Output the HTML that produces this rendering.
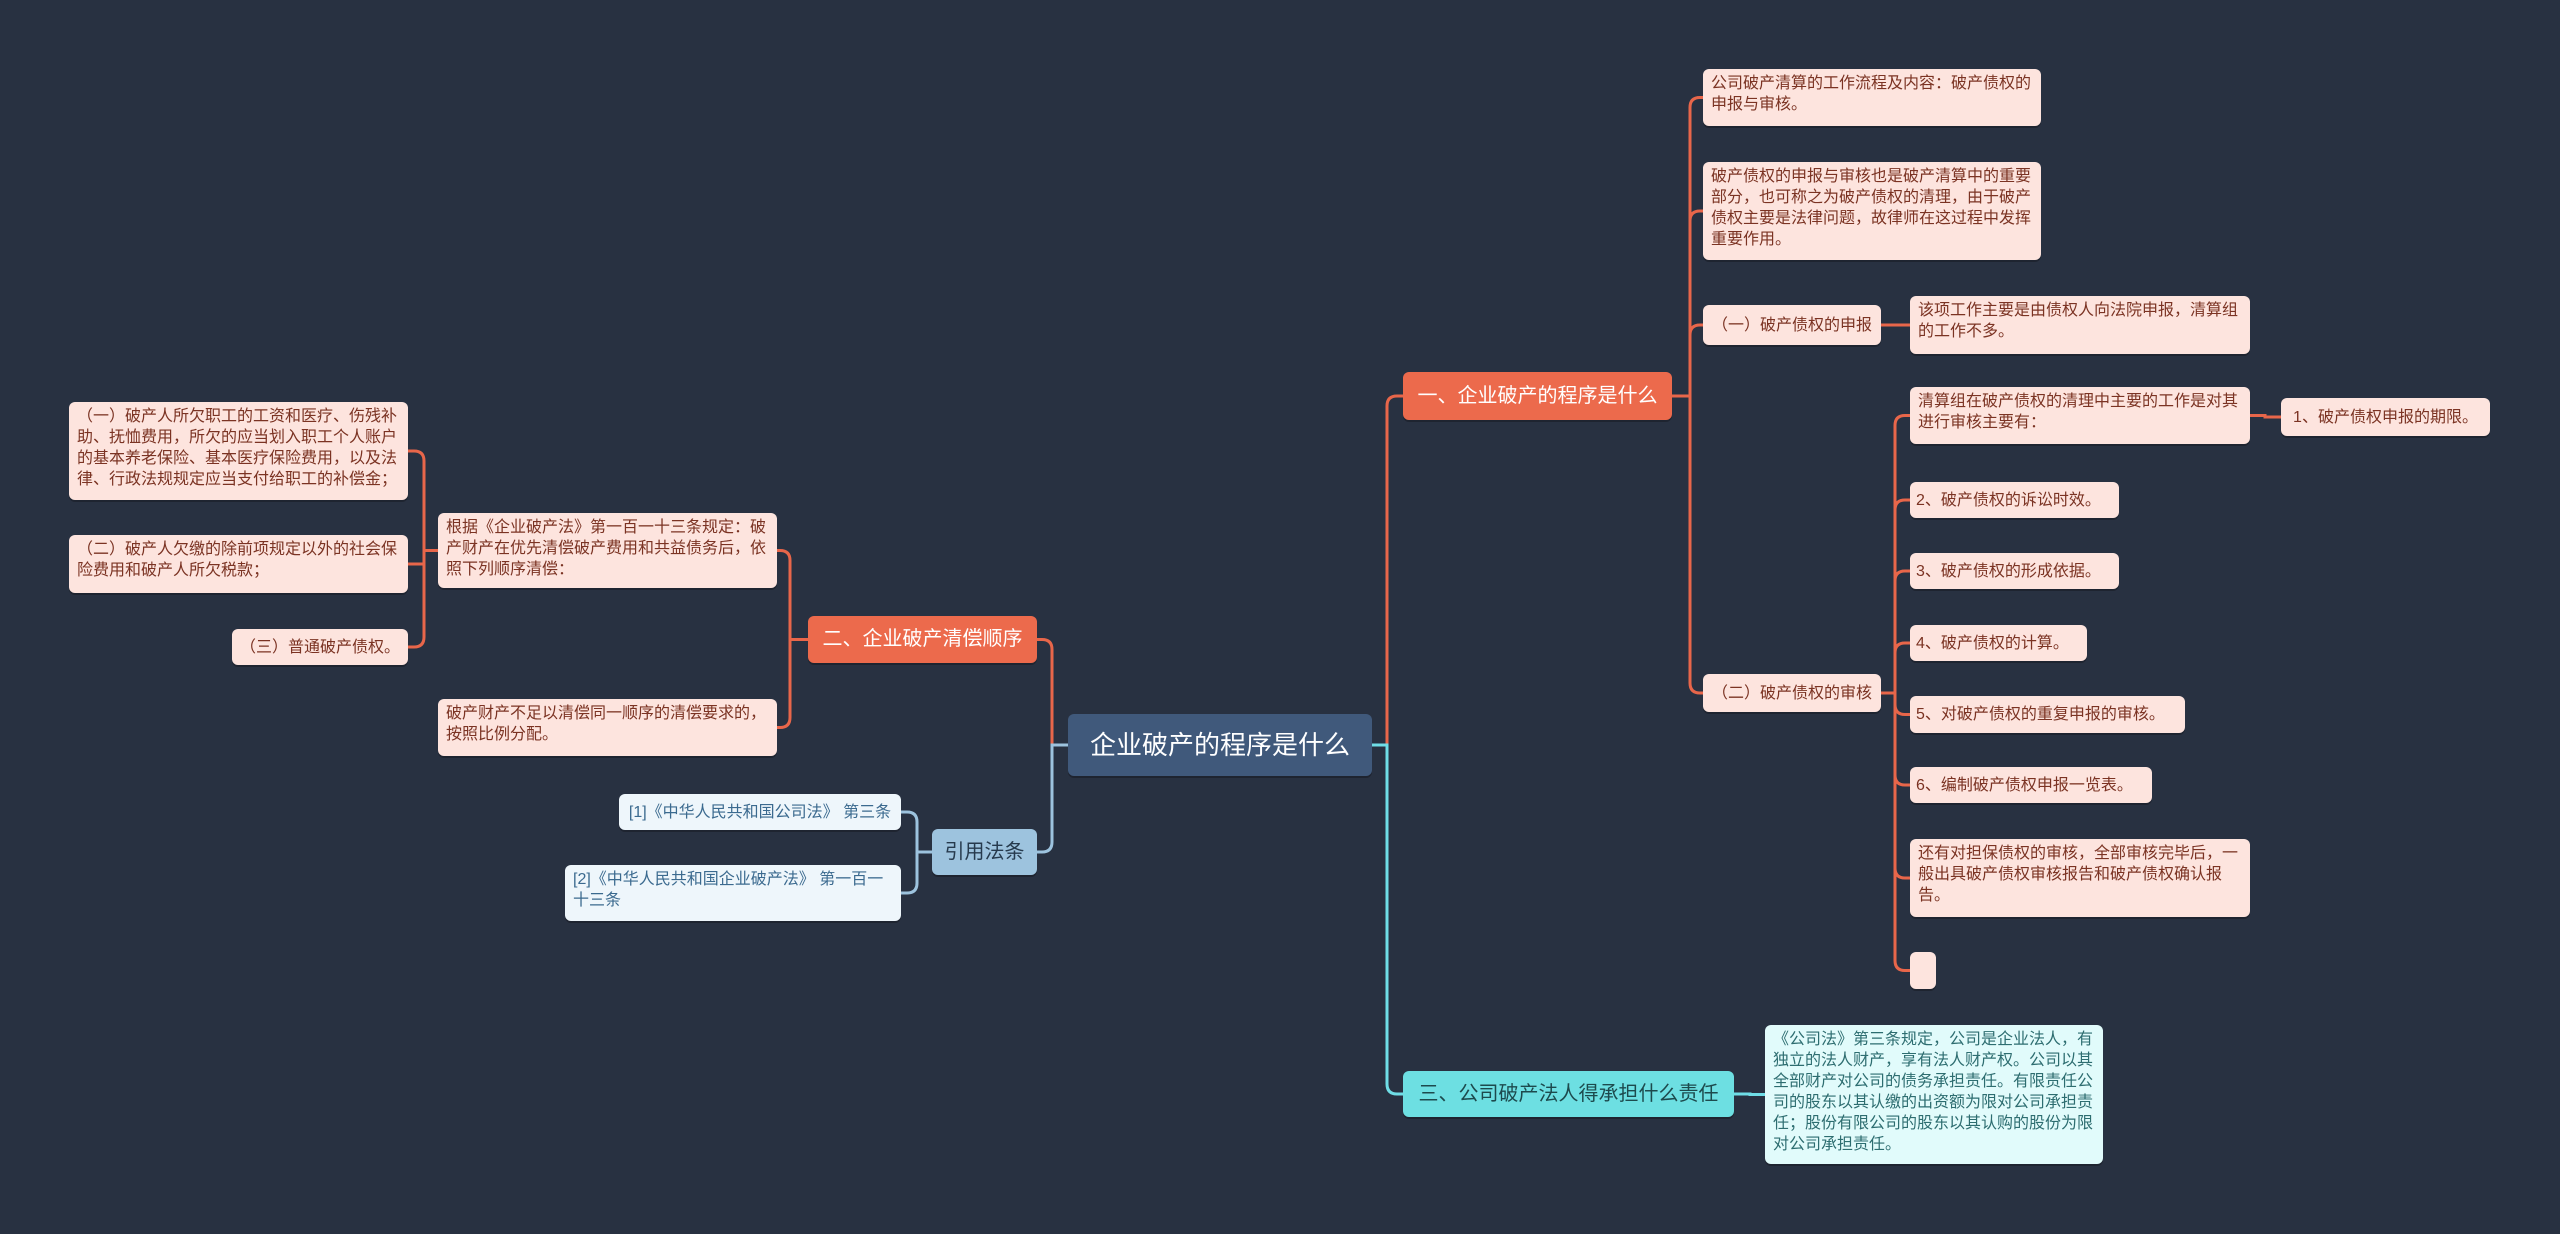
<!DOCTYPE html>
<html><head><meta charset="utf-8">
<style>
html,body{margin:0;padding:0;}
body{width:2560px;height:1234px;background:#283141;position:relative;overflow:hidden;font-family:"Liberation Sans","Noto Sans CJK SC",sans-serif;}
.n{position:absolute;box-sizing:border-box;border-radius:6px;padding:4px 8px;font-size:16px;line-height:21px;box-shadow:0 2px 0 rgba(0,0,0,0.25);word-break:break-all;}
.p{background:#fde4de;color:#7b3323;}
.b{background:#eef6fb;color:#3b6a8f;}
.c{background:#e1fbfb;color:#2d6d70;}
.m{display:flex;align-items:center;justify-content:center;padding:0 6px;}
svg{position:absolute;left:0;top:0;}
</style></head><body>
<svg id="s" width="2560" height="1234"></svg>

<div class="n m" id="root" style="left:1068px;top:714px;width:304px;height:62px;background:#40597b;color:#fff;font-size:26px;">企业破产的程序是什么</div>
<div class="n m" id="b1" style="left:1403px;top:372px;width:269px;height:48px;background:#ec6a4c;color:#fff;font-size:20px;">一、企业破产的程序是什么</div>
<div class="n m" id="b2" style="left:808px;top:616px;width:229px;height:47px;background:#ec6a4c;color:#fff;font-size:20px;">二、企业破产清偿顺序</div>
<div class="n m" id="b4" style="left:932px;top:829px;width:105px;height:46px;background:#9dc3de;color:#263a4d;font-size:20px;">引用法条</div>
<div class="n m" id="b3" style="left:1403px;top:1071px;width:331px;height:46px;background:#6ddfe2;color:#1d4a4d;font-size:20px;">三、公司破产法人得承担什么责任</div>

<div class="n p" id="r1" style="left:1703px;top:69px;width:338px;height:57px;">公司破产清算的工作流程及内容：破产债权的申报与审核。</div>
<div class="n p" id="r2" style="left:1703px;top:162px;width:338px;height:98px;">破产债权的申报与审核也是破产清算中的重要部分，也可称之为破产债权的清理，由于破产债权主要是法律问题，故律师在这过程中发挥重要作用。</div>
<div class="n p m" id="r3" style="left:1703px;top:305px;width:178px;height:40px;">（一）破产债权的申报</div>
<div class="n p" id="r3a" style="left:1910px;top:296px;width:340px;height:58px;">该项工作主要是由债权人向法院申报，清算组的工作不多。</div>
<div class="n p m" id="r4" style="left:1703px;top:674px;width:178px;height:38px;">（二）破产债权的审核</div>
<div class="n p" id="c1" style="left:1910px;top:387px;width:340px;height:57px;">清算组在破产债权的清理中主要的工作是对其进行审核主要有：</div>
<div class="n p m" id="c1a" style="left:2281px;top:398px;width:209px;height:38px;">1、破产债权申报的期限。</div>
<div class="n p m" id="c2" style="left:1910px;top:482px;width:209px;height:36px;justify-content:flex-start;">2、破产债权的诉讼时效。</div>
<div class="n p m" id="c3" style="left:1910px;top:553px;width:209px;height:36px;justify-content:flex-start;">3、破产债权的形成依据。</div>
<div class="n p m" id="c4" style="left:1910px;top:625px;width:177px;height:36px;justify-content:flex-start;">4、破产债权的计算。</div>
<div class="n p m" id="c5" style="left:1910px;top:696px;width:275px;height:37px;justify-content:flex-start;">5、对破产债权的重复申报的审核。</div>
<div class="n p m" id="c6" style="left:1910px;top:767px;width:242px;height:36px;justify-content:flex-start;">6、编制破产债权申报一览表。</div>
<div class="n p" id="c7" style="left:1910px;top:839px;width:340px;height:78px;">还有对担保债权的审核，全部审核完毕后，一般出具破产债权审核报告和破产债权确认报告。</div>
<div class="n p" id="c8" style="left:1910px;top:952px;width:26px;height:37px;"></div>
<div class="n c" id="t1" style="left:1765px;top:1025px;width:338px;height:139px;">《公司法》第三条规定，公司是企业法人，有独立的法人财产，享有法人财产权。公司以其全部财产对公司的债务承担责任。有限责任公司的股东以其认缴的出资额为限对公司承担责任；股份有限公司的股东以其认购的股份为限对公司承担责任。</div>

<div class="n p" id="l1" style="left:438px;top:513px;width:339px;height:75px;">根据《企业破产法》第一百一十三条规定：破产财产在优先清偿破产费用和共益债务后，依照下列顺序清偿：</div>
<div class="n p" id="l2" style="left:438px;top:699px;width:339px;height:57px;">破产财产不足以清偿同一顺序的清偿要求的，按照比例分配。</div>
<div class="n p" id="l1a" style="left:69px;top:402px;width:339px;height:98px;">（一）破产人所欠职工的工资和医疗、伤残补助、抚恤费用，所欠的应当划入职工个人账户的基本养老保险、基本医疗保险费用，以及法律、行政法规规定应当支付给职工的补偿金；</div>
<div class="n p" id="l1b" style="left:69px;top:535px;width:339px;height:58px;">（二）破产人欠缴的除前项规定以外的社会保险费用和破产人所欠税款；</div>
<div class="n p m" id="l1c" style="left:232px;top:629px;width:176px;height:36px;">（三）普通破产债权。</div>
<div class="n b m" id="q1" style="left:619px;top:794px;width:282px;height:36px;">[1]《中华人民共和国公司法》 第三条</div>
<div class="n b" id="q2" style="left:565px;top:865px;width:336px;height:56px;">[2]《中华人民共和国企业破产法》 第一百一十三条</div>

<script>
function box(id){var e=document.getElementById(id);var l=e.offsetLeft,t=e.offsetTop,w=e.offsetWidth,h=e.offsetHeight;return{l:l,r:l+w,cy:t+h/2};}
var O='#e8664a',C='#6fdde6',B='#9dc3de';
var E=[
['root','b1',1387,O,1],['root','b3',1387,C,1],['root','b2',1052,O,-1],['root','b4',1052,B,-1],
['b1','r1',1690,O,1],['b1','r2',1690,O,1],['b1','r3',1690,O,1],['b1','r4',1690,O,1],
['r3','r3a',1895,O,1],['r4','c1',1895,O,1],['r4','c2',1895,O,1],['r4','c3',1895,O,1],['r4','c4',1895,O,1],['r4','c5',1895,O,1],['r4','c6',1895,O,1],['r4','c7',1895,O,1],['r4','c8',1895,O,1],
['c1','c1a',2265,O,1],['b3','t1',1750,C,1],
['b2','l1',790,O,-1],['b2','l2',790,O,-1],['l1','l1a',424,O,-1],['l1','l1b',424,O,-1],['l1','l1c',424,O,-1],
['b4','q1',917,B,-1],['b4','q2',917,B,-1]];
var s='';
E.forEach(function(e){var p=box(e[0]),c=box(e[1]),tx=e[2],d=e[4];
var px=d>0?p.r:p.l,py=p.cy,cx=d>0?c.l:c.r,cy=c.cy,r=10,path;
if(Math.abs(cy-py)<r*2){path='M'+px+' '+py+' H'+tx+' V'+cy+' H'+cx;}
else{var sg=cy>py?1:-1;path='M'+px+' '+py+' H'+tx+' V'+(cy-sg*r)+' Q'+tx+' '+cy+' '+(tx+d*r)+' '+cy+' H'+cx;}
s+='<path d="'+path+'" fill="none" stroke="'+e[3]+'" stroke-width="3"/>';});
document.getElementById('s').innerHTML=s;
</script>
</body></html>
